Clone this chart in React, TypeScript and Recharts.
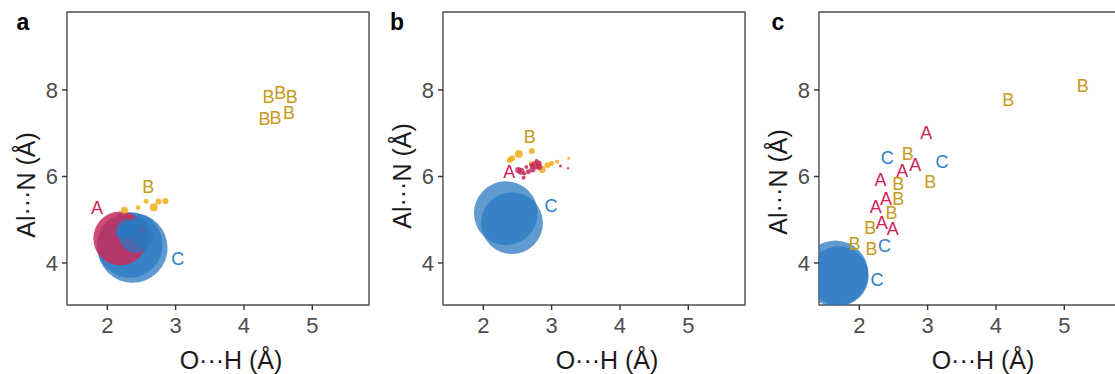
import React from "react";
import {
  ScatterChart,
  Scatter,
  XAxis,
  YAxis,
  ZAxis,
  Cell,
  ReferenceArea,
} from "recharts";

const FONT = "'Liberation Sans', Arial, Helvetica, sans-serif";

// axis setup shared by the three panels
const X_DOMAIN: [number, number] = [1.41, 5.83];
const Y_DOMAIN: [number, number] = [3.03, 9.8];
const X_TICKS = [2, 3, 4, 5];
const Y_TICKS = [4, 6, 8];

// fill colours for the bubbles, text colours for the letters
const BUBBLE_COLORS: Record<string, string> = { A: "#c82a5a", B: "#f0ad1a", C: "#2a7ac2" };
const BUBBLE_OPACITY: Record<string, number> = { A: 0.85, B: 0.85, C: 0.75 };
const LETTER_COLORS: Record<string, string> = { A: "#d11f5a", B: "#c99a1c", C: "#2f80c8" };

// panel a: bubbles (w = population share) and letter markers
const bubblesA = [
  { x: 2.37, y: 4.35, w: 96, g: "C" },
  { x: 2.33, y: 4.42, w: 85, g: "C" },
  { x: 2.19, y: 4.57, w: 57, g: "A" },
  { x: 2.36, y: 4.85, w: 6, g: "A" },
  { x: 2.42, y: 4.63, w: 23, g: "C" },
  { x: 2.28, y: 4.8, w: 6.4, g: "C" },
  { x: 2.36, y: 4.78, w: 5, g: "C" },
  { x: 2.5, y: 4.55, w: 5, g: "C" },
  { x: 2.22, y: 4.72, w: 4, g: "C" },
  { x: 2.45, y: 4.92, w: 3.8, g: "C" },
  { x: 2.3, y: 4.7, w: 3, g: "C" },
  { x: 2.25, y: 5.22, w: 0.96, g: "B" },
  { x: 2.45, y: 5.28, w: 0.42, g: "B" },
  { x: 2.57, y: 5.43, w: 0.49, g: "B" },
  { x: 2.68, y: 5.29, w: 1.26, g: "B" },
  { x: 2.75, y: 5.42, w: 0.71, g: "B" },
  { x: 2.85, y: 5.43, w: 0.71, g: "B" },
];
const lettersA = [
  { x: 1.85, y: 5.27, g: "A" },
  { x: 2.6, y: 5.75, g: "B" },
  { x: 3.03, y: 4.1, g: "C" },
  { x: 4.36, y: 7.84, g: "B" },
  { x: 4.53, y: 7.92, g: "B" },
  { x: 4.7, y: 7.84, g: "B" },
  { x: 4.3, y: 7.33, g: "B" },
  { x: 4.46, y: 7.36, g: "B" },
  { x: 4.66, y: 7.46, g: "B" },
];

// panel b
const bubblesB = [
  { x: 2.33, y: 5.15, w: 80, g: "C" },
  { x: 2.42, y: 4.92, w: 75, g: "C" },
  { x: 2.52, y: 6.52, w: 1.26, g: "B" },
  { x: 2.42, y: 6.42, w: 0.71, g: "B" },
  { x: 2.39, y: 6.38, w: 0.71, g: "B" },
  { x: 2.71, y: 6.59, w: 0.71, g: "B" },
  { x: 2.71, y: 6.29, w: 0.71, g: "B" },
  { x: 2.86, y: 6.16, w: 1.0, g: "B" },
  { x: 2.94, y: 6.26, w: 0.71, g: "B" },
  { x: 3.0, y: 6.3, w: 0.5, g: "B" },
  { x: 3.08, y: 6.34, w: 0.31, g: "B" },
  { x: 3.25, y: 6.42, w: 0.18, g: "B" },
  { x: 2.55, y: 6.12, w: 0.96, g: "A" },
  { x: 2.51, y: 6.15, w: 0.71, g: "A" },
  { x: 2.6, y: 6.07, w: 0.31, g: "A" },
  { x: 2.66, y: 6.11, w: 0.49, g: "A" },
  { x: 2.72, y: 6.16, w: 0.71, g: "A" },
  { x: 2.76, y: 6.26, w: 1.26, g: "A" },
  { x: 2.81, y: 6.3, w: 0.71, g: "A" },
  { x: 2.82, y: 6.22, w: 0.71, g: "A" },
  { x: 2.71, y: 6.26, w: 0.49, g: "A" },
  { x: 2.63, y: 6.22, w: 0.31, g: "A" },
  { x: 2.59, y: 5.97, w: 0.31, g: "A" },
  { x: 2.78, y: 6.36, w: 0.31, g: "A" },
  { x: 3.13, y: 6.24, w: 0.18, g: "A" },
  { x: 3.24, y: 6.19, w: 0.11, g: "A" },
];
const lettersB = [
  { x: 2.38, y: 6.11, g: "A" },
  { x: 2.68, y: 6.92, g: "B" },
  { x: 2.99, y: 5.32, g: "C" },
];

// panel c
const bubblesC = [
  { x: 1.65, y: 3.76, w: 85, g: "C" },
  { x: 1.7, y: 3.7, w: 70, g: "C" },
];
const lettersC = [
  { x: 2.98, y: 7.0, g: "A" },
  { x: 2.82, y: 6.26, g: "A" },
  { x: 2.63, y: 6.13, g: "A" },
  { x: 2.31, y: 5.92, g: "A" },
  { x: 2.39, y: 5.49, g: "A" },
  { x: 2.24, y: 5.29, g: "A" },
  { x: 2.33, y: 4.93, g: "A" },
  { x: 2.49, y: 4.78, g: "A" },
  { x: 4.18, y: 7.76, g: "B" },
  { x: 5.27, y: 8.09, g: "B" },
  { x: 2.71, y: 6.53, g: "B" },
  { x: 3.04, y: 5.88, g: "B" },
  { x: 2.57, y: 5.82, g: "B" },
  { x: 2.57, y: 5.48, g: "B" },
  { x: 2.47, y: 5.16, g: "B" },
  { x: 2.16, y: 4.82, g: "B" },
  { x: 1.93, y: 4.43, g: "B" },
  { x: 2.18, y: 4.32, g: "B" },
  { x: 2.41, y: 6.42, g: "C" },
  { x: 3.21, y: 6.34, g: "C" },
  { x: 2.37, y: 4.39, g: "C" },
  { x: 2.26, y: 3.61, g: "C" },
];

const PANELS = [
  { tag: "a", tagX: 23, titleY: 185, bubbles: bubblesA, letters: lettersA },
  { tag: "b", tagX: 21, titleY: 176, bubbles: bubblesB, letters: lettersB },
  { tag: "c", tagX: 26, titleY: 182, bubbles: bubblesC, letters: lettersC },
];

function XTitle() {
  return (
    <text x={231} y={360} textAnchor="middle" dominantBaseline="central"
      fontSize={25} fill="#1a1a1a" fontFamily={FONT}>
      O···H (Å)
    </text>
  );
}

function YTitle({ tag, tagX, titleY }: { tag: string; tagX: number; titleY: number }) {
  return (
    <g>
      <text x={tagX} y={30} textAnchor="middle" fontSize={23} fontWeight="bold"
        fill="#000" fontFamily={FONT}>
        {tag}
      </text>
      <text x={26} y={titleY} textAnchor="middle" dominantBaseline="central"
        transform={`rotate(-90, 26, ${titleY})`} fontSize={25} fill="#1a1a1a" fontFamily={FONT}>
        Al···N (Å)
      </text>
    </g>
  );
}

const LetterMark = (props: any) => {
  const { cx, cy, payload } = props;
  return (
    <text x={cx} y={cy} textAnchor="middle" dominantBaseline="central"
      fontSize={18} fill={LETTER_COLORS[payload.g]} fontFamily={FONT}>
      {payload.g}
    </text>
  );
};

function Panel({ tag, tagX, titleY, bubbles, letters }: any) {
  return (
    <ScatterChart width={376} height={374} margin={{ top: 12, right: 7, bottom: 0, left: 0 }}>
      <XAxis type="number" dataKey="x" domain={X_DOMAIN} ticks={X_TICKS}
        allowDataOverflow height={69} axisLine={false} tickSize={5} tickMargin={7}
        tickLine={{ stroke: "#333", strokeWidth: 1.4 }}
        tick={{ fontSize: 22, fill: "#4d4d4d", fontFamily: FONT }}
        label={<XTitle />} />
      <YAxis type="number" dataKey="y" domain={Y_DOMAIN} ticks={Y_TICKS}
        allowDataOverflow width={67} axisLine={false} tickSize={5} tickMargin={4}
        tickLine={{ stroke: "#333", strokeWidth: 1.4 }}
        tick={{ fontSize: 22, fill: "#4d4d4d", fontFamily: FONT }}
        label={<YTitle tag={tag} tagX={tagX} titleY={titleY} />} />
      <ZAxis type="number" dataKey="w" domain={[0, 100]} range={[0, 4000]} />
      <ReferenceArea x1={X_DOMAIN[0]} x2={X_DOMAIN[1]} y1={Y_DOMAIN[0]} y2={Y_DOMAIN[1]}
        fill="none" stroke="#4d4d4d" strokeWidth={1.4} ifOverflow="visible" />
      <Scatter data={bubbles} isAnimationActive={false}>
        {bubbles.map((d: any, i: number) => (
          <Cell key={i} fill={BUBBLE_COLORS[d.g]} fillOpacity={BUBBLE_OPACITY[d.g]} />
        ))}
      </Scatter>
      <Scatter data={letters} isAnimationActive={false} shape={LetterMark} />
    </ScatterChart>
  );
}

export default function App() {
  return (
    <div style={{ position: "fixed", left: 0, top: 0, width: 1115, height: 374,
      overflow: "hidden", display: "flex", background: "#fff" }}>
      {PANELS.map((p) => (
        <div key={p.tag} style={{ flex: "0 0 376px" }}>
          <Panel {...p} />
        </div>
      ))}
    </div>
  );
}
